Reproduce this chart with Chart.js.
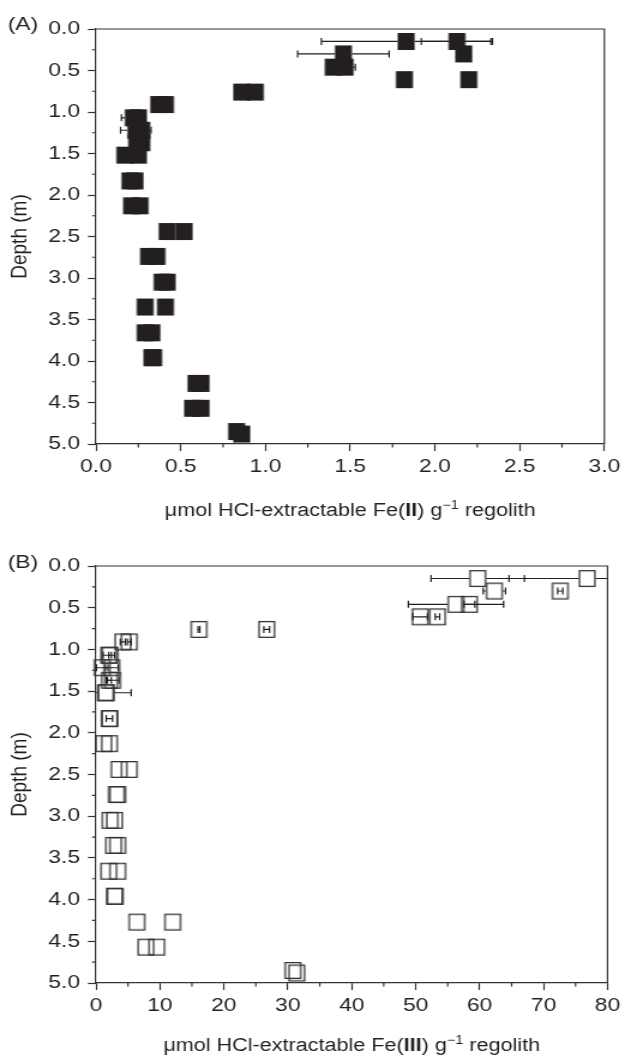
<!DOCTYPE html>
<html lang="en">
<head>
<meta charset="UTF-8" />
<title>HCl-extractable Fe(II) and Fe(III) with depth</title>
<script src="https://cdn.jsdelivr.net/npm/chart.js"></script>
<style>
    body { margin: 0; background: #fff; }
    .panel { position: absolute; left: 0; }
    #panelA { top: 0; }
    #panelB { top: 528px; }
</style>
</head>
<body>
<canvas id="panelA" class="panel" width="521" height="528" style="width:625px;height:528px"></canvas>
<canvas id="panelB" class="panel" width="521" height="528" style="width:625px;height:528px"></canvas>
<script>
// sample depths (m) for the two replicates; the deepest pair is offset a little
const depthRep1 = [0.15, 0.30, 0.46, 0.61, 0.76, 0.91, 1.07, 1.22, 1.37, 1.52, 1.83, 2.13, 2.44, 2.74, 3.05, 3.35, 3.66, 3.96, 4.27, 4.57, 4.85];
const depthRep2 = [0.15, 0.30, 0.46, 0.61, 0.76, 0.91, 1.07, 1.22, 1.37, 1.52, 1.83, 2.13, 2.44, 2.74, 3.05, 3.35, 3.66, 3.96, 4.27, 4.57, 4.88];

// Fe(II), umol per g regolith
const fe2Rep1 = [1.83, 1.46, 1.40, 1.82, 0.86, 0.37, 0.22, 0.235, 0.24, 0.17, 0.20, 0.21, 0.42, 0.31, 0.39, 0.29, 0.29, 0.33, 0.59, 0.57, 0.83];
const fe2Rep2 = [2.13, 2.17, 1.47, 2.20, 0.94, 0.41, 0.25, 0.27, 0.27, 0.25, 0.23, 0.26, 0.52, 0.36, 0.42, 0.41, 0.33, 0.34, 0.62, 0.62, 0.86];
const fe2Err1 = [0.50, 0.27, 0, 0, 0, 0, 0.07, 0.09, 0, 0, 0, 0, 0, 0, 0, 0, 0, 0, 0, 0, 0];
const fe2Err2 = [0.21, 0.02, 0.06, 0, 0, 0, 0, 0, 0, 0, 0, 0, 0, 0, 0, 0, 0, 0, 0, 0, 0];

// Fe(III), umol per g regolith
const fe3Rep1 = [59.7, 62.3, 56.3, 50.7, 16.1, 4.2, 2.0, 0.97, 2.1, 1.5, 2.1, 1.2, 3.6, 3.2, 2.2, 2.75, 2.0, 2.9, 6.4, 7.8, 30.8];
const fe3Rep2 = [76.8, 72.6, 58.4, 53.4, 26.7, 5.2, 2.2, 2.47, 2.6, 1.6, 2.15, 2.1, 5.2, 3.4, 2.9, 3.4, 3.4, 3.0, 12.0, 9.5, 31.4];
const fe3Err1 = [7.3, 1.75, 7.45, 1.15, 0.15, 0.4, 0.9, 0.9, 0.3, 4.0, 0.5, 0, 0, 0, 0, 0, 0, 0, 0, 0, 0];
const fe3Err2 = [12.2, 0.4, 0.85, 0.35, 0.45, 0.3, 0.2, 1.0, 1.0, 0, 0, 0, 0, 0, 0, 0, 0, 0, 0, 0, 0];

const FONT = '"Liberation Sans", Arial, Helvetica, sans-serif';
const INK = '#231f20';
const AXIS = '#333';
// backing store is 521 px wide but shown 625 px wide
const STRETCH = 625 / 521;
const MARK = 17;

function squareMarker(filled) {
    const w = MARK / STRETCH, h = MARK;
    const c = document.createElement('canvas');
    c.width = Math.ceil(w) + 2;
    c.height = h + 2;
    const g = c.getContext('2d');
    const x0 = (c.width - w) / 2, y0 = 1;
    if (filled) {
        g.fillStyle = INK;
        g.fillRect(x0, y0, w, h);
    } else {
        g.strokeStyle = AXIS;
        g.lineWidth = 1.3;
        g.strokeRect(x0 + 0.65, y0 + 0.65, w - 1.3, h - 1.3);
    }
    return c;
}

const panelDecor = {
    id: 'panelDecor',
    afterDatasetsDraw(chart, args, o) {
        const { ctx, chartArea: a, scales: { x } } = chart;
        const hw = MARK / STRETCH / 2;
        ctx.save();
        ctx.strokeStyle = INK;
        ctx.lineWidth = 1.2;
        o.errors.forEach((errs, d) => {
            const meta = chart.getDatasetMeta(d);
            const vals = chart.data.datasets[d].data;
            errs.forEach((e, i) => {
                if (!e) return;
                const pt = meta.data[i];
                const cx = pt.x, cy = pt.y;
                const xl = x.getPixelForValue(vals[i].x - e);
                const xr = x.getPixelForValue(vals[i].x + e);
                const l = Math.max(xl, a.left), r = Math.min(xr, a.right);
                ctx.beginPath();
                if (cx - xl > hw) {
                    ctx.moveTo(l, cy); ctx.lineTo(cx - hw, cy);
                    ctx.moveTo(cx + hw, cy); ctx.lineTo(r, cy);
                } else {
                    ctx.moveTo(l, cy); ctx.lineTo(r, cy);
                }
                if (xl >= a.left) { ctx.moveTo(xl, cy - 3.5); ctx.lineTo(xl, cy + 3.5); }
                if (xr <= a.right) { ctx.moveTo(xr, cy - 3.5); ctx.lineTo(xr, cy + 3.5); }
                ctx.stroke();
            });
        });
        ctx.restore();
    },
    afterDraw(chart, args, o) {
        const { ctx, chartArea: a, scales: { x, y } } = chart;
        ctx.save();
        ctx.strokeStyle = AXIS;
        ctx.lineWidth = 1.2;
        // closing frame on top and right
        ctx.beginPath();
        ctx.moveTo(a.left, a.top); ctx.lineTo(a.right, a.top); ctx.lineTo(a.right, a.bottom);
        ctx.stroke();
        // minor ticks halfway between labelled ticks
        ctx.beginPath();
        const mids = (s) => s.ticks.slice(1).map((t, i) => (t.value + s.ticks[i].value) / 2);
        mids(x).forEach(v => {
            const px = x.getPixelForValue(v);
            ctx.moveTo(px, a.bottom); ctx.lineTo(px, a.bottom + 3.5);
        });
        mids(y).forEach(v => {
            const py = y.getPixelForValue(v);
            ctx.moveTo(a.left, py); ctx.lineTo(a.left - 3.3, py);
        });
        ctx.stroke();

        // panel tag
        ctx.fillStyle = INK;
        ctx.font = '19px ' + FONT;
        ctx.textAlign = 'left';
        ctx.textBaseline = 'middle';
        ctx.fillText(o.tag, 6.5, o.tagY);

        // x axis title with bold oxidation state and superscript
        const parts = [
            { t: '\u03bcmol HCl-extractable Fe(', f: '18px ' + FONT, dy: 0 },
            { t: o.state, f: 'bold 18px ' + FONT, dy: 0 },
            { t: ') g', f: '18px ' + FONT, dy: 0 },
            { t: '\u22121', f: '12px ' + FONT, dy: -7 },
            { t: ' regolith', f: '18px ' + FONT, dy: 0 }
        ];
        let total = 0;
        parts.forEach(p => { ctx.font = p.f; p.w = ctx.measureText(p.t).width; total += p.w; });
        let cx = (a.left + a.right) / 2 - total / 2;
        const base = a.bottom + o.titleBase;
        ctx.textBaseline = 'alphabetic';
        parts.forEach(p => {
            ctx.font = p.f;
            ctx.fillText(p.t, cx, base + p.dy);
            cx += p.w;
        });
        ctx.restore();
    }
};

function makePanel(id, cfg) {
    const marker = squareMarker(cfg.filled);
    const points = (vals, depths) => vals.map((v, i) => ({ x: v, y: depths[i] }));
    const ds = (vals, depths) => ({
        data: points(vals, depths),
        pointStyle: marker,
        pointRadius: 9,
        pointHoverRadius: 9,
        clip: false
    });
    return new Chart(document.getElementById(id), {
        type: 'scatter',
        data: { datasets: [ds(cfg.rep1, depthRep1), ds(cfg.rep2, depthRep2)] },
        options: {
            responsive: false,
            animation: false,
            devicePixelRatio: 1,
            events: [],
            layout: { padding: { top: cfg.top, right: cfg.right, left: 0, bottom: 0 } },
            plugins: {
                legend: { display: false },
                tooltip: { enabled: false },
                panelDecor: {
                    tag: cfg.tag, tagY: cfg.tagY, state: cfg.state,
                    titleBase: cfg.titleBase, errors: [cfg.err1, cfg.err2]
                }
            },
            scales: {
                x: {
                    type: 'linear',
                    min: cfg.xMin, max: cfg.xMax,
                    ticks: {
                        stepSize: cfg.xStep,
                        callback: cfg.xFmt,
                        font: { family: FONT, size: 19 },
                        color: INK,
                        padding: cfg.xPad,
                        maxRotation: 0,
                        autoSkip: false
                    },
                    grid: { drawOnChartArea: false, tickLength: 7, tickColor: AXIS, tickWidth: 1.2 },
                    border: { color: AXIS, width: 1.2 },
                    afterFit(s) { s.height = cfg.xHeight; }
                },
                y: {
                    type: 'linear',
                    reverse: true,
                    min: 0, max: 5,
                    ticks: {
                        stepSize: 0.5,
                        callback: v => v.toFixed(1),
                        font: { family: FONT, size: 19 },
                        color: INK,
                        padding: 6.6
                    },
                    grid: { drawOnChartArea: false, tickLength: 6.7, tickColor: AXIS, tickWidth: 1.2 },
                    border: { color: AXIS, width: 1.2 },
                    title: {
                        display: true,
                        text: 'Depth (m)',
                        font: { family: FONT, size: 19 },
                        color: INK,
                        padding: { top: 5, bottom: 0 }
                    },
                    afterFit(s) { s.width = 80; }
                }
            }
        },
        plugins: [panelDecor]
    });
}

makePanel('panelA', {
    filled: true, tag: '(A)', tagY: 25, state: 'II',
    rep1: fe2Rep1, rep2: fe2Rep2, err1: fe2Err1, err2: fe2Err2,
    xMin: 0, xMax: 3, xStep: 0.5, xFmt: v => v.toFixed(1),
    top: 29, right: 13.3, xHeight: 84, xPad: 4, titleBase: 72
});

makePanel('panelB', {
    filled: false, tag: '(B)', tagY: 35, state: 'III',
    rep1: fe3Rep1, rep2: fe3Rep2, err1: fe3Err1, err2: fe3Err2,
    xMin: 0, xMax: 80, xStep: 10, xFmt: v => String(v),
    top: 38, right: 13.8, xHeight: 73, xPad: 4, titleBase: 68
});
</script>
</body>
</html>
